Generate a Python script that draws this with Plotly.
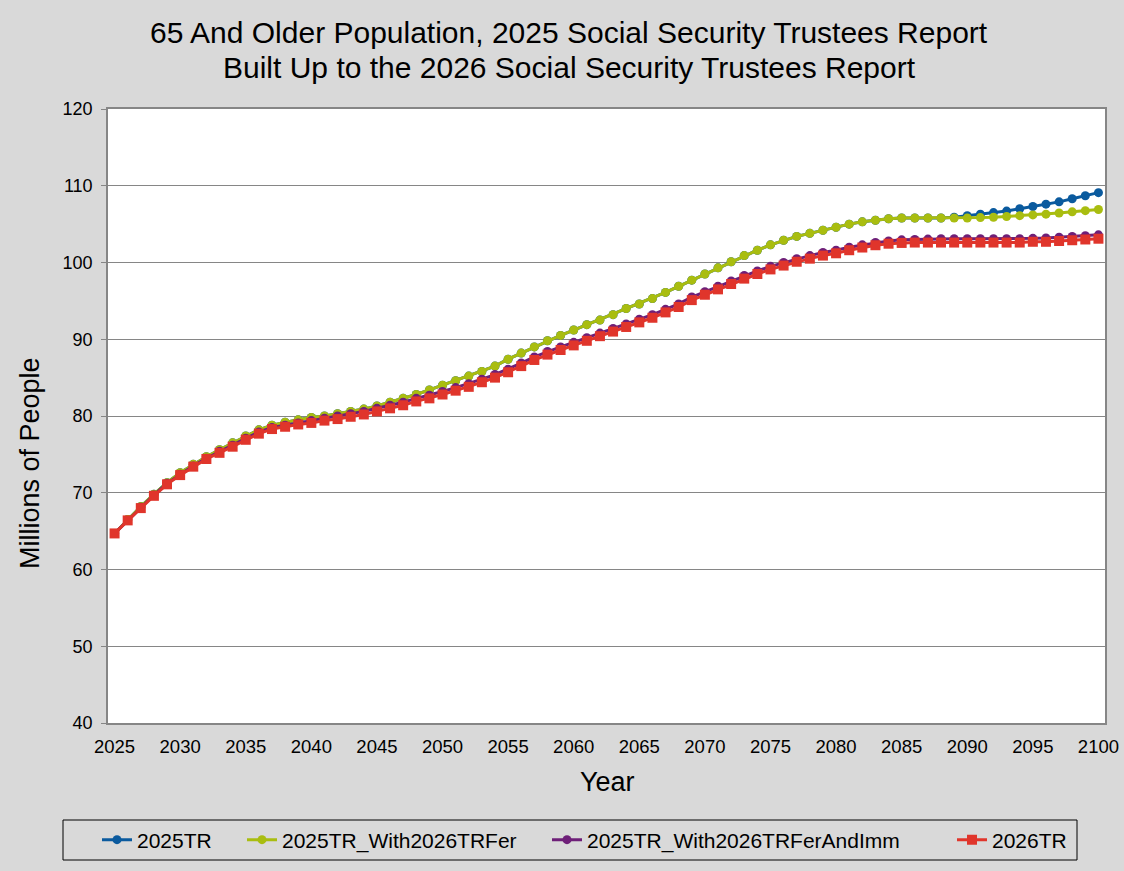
import plotly.graph_objects as go

years = list(range(2025, 2101))

tr2025_tail = [105.9, 106.1, 106.3, 106.5, 106.7, 107.0, 107.3, 107.6, 107.9, 108.3, 108.7, 109.1]  # 2089-2100

with_fer = [
    64.7, 66.5, 68.2, 69.8, 71.3, 72.6, 73.7, 74.7, 75.6, 76.5,
    77.4, 78.2, 78.8, 79.2, 79.5, 79.8, 80.0, 80.3, 80.6, 80.9,
    81.3, 81.8, 82.3, 82.8, 83.4, 84.0, 84.6, 85.2, 85.8, 86.5,
    87.4, 88.2, 89.0, 89.8, 90.5, 91.2, 91.9, 92.5, 93.2, 94.0,
    94.6, 95.3, 96.1, 96.9, 97.7, 98.5, 99.3, 100.1, 100.9, 101.6,
    102.3, 102.9, 103.4, 103.8, 104.2, 104.6, 105.0, 105.3, 105.5, 105.7,
    105.8, 105.8, 105.8, 105.8, 105.8, 105.8, 105.85, 105.9, 106.0, 106.1,
    106.2, 106.3, 106.45, 106.6, 106.75, 106.9,
]

tr2025 = with_fer[:64] + tr2025_tail

with_fer_imm = [
    64.7, 66.4, 68.1, 69.7, 71.2, 72.4, 73.5, 74.5, 75.4, 76.2,
    77.1, 77.9, 78.5, 78.8, 79.1, 79.4, 79.7, 80.0, 80.3, 80.6,
    81.0, 81.4, 81.8, 82.3, 82.7, 83.2, 83.7, 84.2, 84.8, 85.4,
    86.1, 86.9, 87.7, 88.4, 89.0, 89.6, 90.2, 90.8, 91.4, 92.0,
    92.6, 93.2, 93.9, 94.6, 95.5, 96.2, 96.9, 97.6, 98.3, 98.9,
    99.5, 100.0, 100.5, 100.9, 101.3, 101.6, 102.0, 102.3, 102.6, 102.8,
    102.95, 103.0, 103.05, 103.1, 103.1, 103.1, 103.1, 103.1, 103.1, 103.1,
    103.15, 103.2, 103.3, 103.4, 103.5, 103.6,
]

tr2026 = [
    64.7, 66.4, 68.0, 69.6, 71.1, 72.3, 73.4, 74.4, 75.2, 76.0,
    76.9, 77.7, 78.3, 78.6, 78.9, 79.1, 79.4, 79.6, 79.9, 80.2,
    80.6, 81.0, 81.4, 81.9, 82.3, 82.8, 83.3, 83.8, 84.4, 85.0,
    85.7, 86.5, 87.3, 88.0, 88.6, 89.2, 89.8, 90.4, 91.0, 91.6,
    92.2, 92.8, 93.5, 94.2, 95.1, 95.8, 96.5, 97.2, 97.9, 98.5,
    99.1, 99.6, 100.1, 100.5, 100.9, 101.2, 101.6, 101.95, 102.25, 102.45,
    102.55, 102.6, 102.6, 102.6, 102.6, 102.6, 102.6, 102.6, 102.6, 102.6,
    102.7, 102.7, 102.8, 102.9, 103.0, 103.1,
]

series_names = ["2025TR", "2025TR_With2026TRFer", "2025TR_With2026TRFerAndImm", "2026TR"]
series_values = [tr2025, with_fer, with_fer_imm, tr2026]
series_colors = ["#0A5A9E", "#A9BD10", "#6E1F78", "#E0352B"]
series_symbols = ["circle", "circle", "circle", "square"]
series_sizes = [9, 9, 9, 10]

title_lines = ["65 And Older Population, 2025 Social Security Trustees Report",
               "Built Up to the 2026 Social Security Trustees Report"]
x_tick_labels = [str(y) for y in range(2025, 2101, 5)]
y_ticks = list(range(40, 121, 10))

FONT = "Liberation Sans, Arial, sans-serif"
BG = "#D9D9D9"
AX = "#868686"

# plot area in pixels
L, R, T, B = 108, 1105, 109, 723
W, H = 1124, 871
pw, ph = R - L, B - T


def px_x(px):
    return (px - L) / pw


def px_y(py):
    return (B - py) / ph


fig = go.Figure()
legend_ids = ["legend", "legend2", "legend3", "legend4"]
for name, vals, col, sym, sz, lg in zip(series_names, series_values, series_colors,
                                        series_symbols, series_sizes, legend_ids):
    fig.add_trace(go.Scatter(
        x=years, y=vals, name=name, mode="lines+markers",
        line=dict(color=col, width=3),
        marker=dict(color=col, symbol=sym, size=sz),
        legend=lg,
    ))

half_years = [y - 0.5 for y in range(2025, 2102)]

legend_text_starts = [137, 282, 587, 992]
legend_common = dict(orientation="h", bgcolor="rgba(0,0,0,0)", borderwidth=0,
                     font=dict(family=FONT, size=21, color="#000000"),
                     xanchor="left", yanchor="middle",
                     xref="container", yref="container", y=1 - 840 / H)
layout_legends = {}
for lg, xs in zip(legend_ids, legend_text_starts):
    layout_legends[lg] = dict(legend_common, x=(xs - 40) / W)

annotations = [
    dict(text=title_lines[0], xref="paper", yref="paper",
         x=px_x(569), y=px_y(33), xanchor="center", yanchor="middle",
         showarrow=False, font=dict(family=FONT, size=30, color="#000000")),
    dict(text=title_lines[1], xref="paper", yref="paper",
         x=px_x(569), y=px_y(68), xanchor="center", yanchor="middle",
         showarrow=False, font=dict(family=FONT, size=30, color="#000000")),
    dict(text="Millions of People", xref="paper", yref="paper",
         x=px_x(30), y=px_y(463), xanchor="center", yanchor="middle",
         textangle=-90, showarrow=False,
         font=dict(family=FONT, size=27, color="#000000")),
    dict(text="Year", xref="paper", yref="paper",
         x=px_x(607), y=px_y(782), xanchor="center", yanchor="middle",
         showarrow=False, font=dict(family=FONT, size=27, color="#000000")),
]

fig.update_layout(
    width=W, height=H,
    paper_bgcolor=BG, plot_bgcolor="#FFFFFF",
    margin=dict(l=L, r=W - R, t=T, b=H - B, autoexpand=False),
    font=dict(family=FONT, color="#000000"),
    showlegend=True,
    xaxis=dict(
        range=[2024.5, 2100.5], tickmode="array",
        tickvals=list(range(2025, 2101, 5)), ticktext=x_tick_labels,
        ticks="", showgrid=False, zeroline=False, automargin=False,
        showline=True, linecolor=AX, linewidth=1.5, mirror=True,
        ticklabelstandoff=6,
        tickfont=dict(family=FONT, size=18.5, color="#000000"),
    ),
    xaxis2=dict(
        range=[2024.5, 2100.5], overlaying="x", anchor="y", side="bottom",
        tickmode="array", tickvals=half_years, ticks="outside", ticklen=6,
        tickcolor=AX, tickwidth=1.2, showticklabels=False, showgrid=False,
        zeroline=False, showline=False, automargin=False,
    ),
    xaxis3=dict(
        range=[2024.5, 2100.5], overlaying="x", anchor="y", side="bottom",
        tickmode="array", tickvals=half_years, ticks="inside", ticklen=6,
        tickcolor=AX, tickwidth=1.2, showticklabels=False, showgrid=False,
        zeroline=False, showline=False, automargin=False,
    ),
    yaxis=dict(
        range=[40, 120], tickmode="array", tickvals=y_ticks,
        ticks="outside", ticklen=5, tickcolor=AX, automargin=False,
        showgrid=True, gridcolor=AX, gridwidth=1.2, zeroline=False,
        showline=True, linecolor=AX, linewidth=1.5, mirror=True,
        ticklabelstandoff=5,
        tickfont=dict(family=FONT, size=18, color="#000000"),
    ),
    annotations=annotations,
    shapes=[
        dict(type="rect", xref="paper", yref="paper",
             x0=px_x(63), x1=px_x(1077), y0=px_y(860), y1=px_y(820),
             line=dict(color="#000000", width=1), fillcolor="rgba(0,0,0,0)",
             layer="above"),
    ],
    **layout_legends,
)

fig.write_html("out.html")
